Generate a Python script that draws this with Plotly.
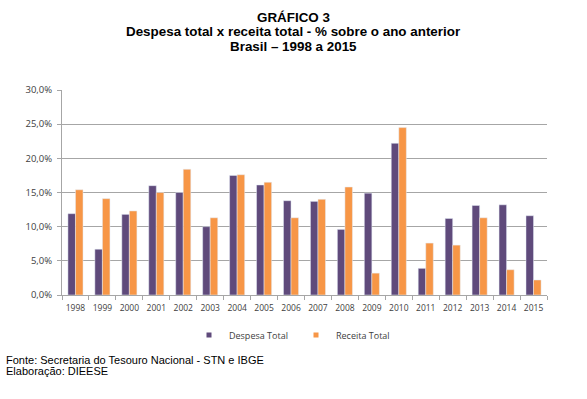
import plotly.graph_objects as go

years = ["1998", "1999", "2000", "2001", "2002", "2003", "2004", "2005", "2006",
         "2007", "2008", "2009", "2010", "2011", "2012", "2013", "2014", "2015"]
despesa = [11.9, 6.7, 11.8, 16.0, 15.0, 10.0, 17.5, 16.1, 13.8,
           13.7, 9.6, 14.9, 22.2, 3.9, 11.2, 13.1, 13.2, 11.6]
receita = [15.4, 14.1, 12.3, 15.0, 18.4, 11.3, 17.6, 16.5, 11.3,
           14.0, 15.8, 3.2, 24.5, 7.6, 7.3, 11.3, 3.7, 2.2]
y_ticks = [0, 5, 10, 15, 20, 25, 30]
y_tick_labels = ["0,0%", "5,0%", "10,0%", "15,0%", "20,0%", "25,0%", "30,0%"]

narrow = "Liberation Sans Narrow, Open Sans, sans-serif"
purple = "#5F4A7B"
orange = "#F79646"

fig = go.Figure()
fig.add_trace(go.Bar(x=years, y=despesa, name="Despesa Total", marker_color=purple,
                     showlegend=False, legendgroup="d"))
fig.add_trace(go.Bar(x=years, y=receita, name="Receita Total", marker_color=orange,
                     showlegend=False, legendgroup="r"))
# legend entries with small square keys
fig.add_trace(go.Scatter(x=[None], y=[None], mode="markers", name="Despesa Total",
                         marker=dict(symbol="square", size=5, color=purple), legendgroup="d"))
fig.add_trace(go.Scatter(x=[None], y=[None], mode="markers", name="Receita Total",
                         marker=dict(symbol="square", size=5, color=orange), legendgroup="r"))

L, R, T, B = 62, 40, 90, 104
W, H = 587, 399
pw, ph = W - L - R, H - T - B

def px(x):
    return (x - L) / pw

def py(y):
    return (H - B - y) / ph

annotations = []
for i, txt in enumerate(["GRÁFICO 3",
                         "Despesa total x receita total - % sobre o ano anterior",
                         "Brasil – 1998 a 2015"]):
    annotations.append(dict(text="<b>" + txt + "</b>", x=px(293), y=py(18 + 14 * i),
                            xref="paper", yref="paper", showarrow=False,
                            xanchor="center", yanchor="middle",
                            font=dict(family="Liberation Sans, Arial, sans-serif", size=13.4, color="black")))
for i, txt in enumerate(["Fonte: Secretaria do Tesouro Nacional - STN e IBGE",
                         "Elaboração: DIEESE"]):
    annotations.append(dict(text=txt, x=px(4), y=py(360 + 11 * i),
                            xref="paper", yref="paper", showarrow=False,
                            xanchor="left", yanchor="middle",
                            font=dict(family="Liberation Sans, Arial, sans-serif", size=11, color="black")))

fig.update_layout(
    width=W, height=H,
    margin=dict(l=L, r=R, t=T, b=B, pad=0),
    paper_bgcolor="white", plot_bgcolor="white",
    barmode="group", bargap=0.44, bargroupgap=0.0,
    showlegend=True,
    legend=dict(orientation="h", xref="container", yref="container",
                x=(296) / W, xanchor="center", y=1 - 335 / H, yanchor="middle",
                font=dict(family=narrow, size=9, color="#404040"),
                itemwidth=30, tracegroupgap=0,
                entrywidth=62, entrywidthmode="pixels"),
    annotations=annotations,
    xaxis=dict(showline=True, linecolor="#A6A6A6", linewidth=1, ticks="outside",
               tickcolor="#A6A6A6", ticklen=4, tickson="boundaries",
               tickfont=dict(family=narrow, size=8.5, color="#404040"),
               ticklabelstandoff=5,
               tickangle=0, automargin=False, showgrid=False),
    yaxis=dict(range=[0, 30], tickvals=y_ticks, ticktext=y_tick_labels,
               showline=True, linecolor="#A6A6A6", linewidth=1,
               ticks="outside", tickcolor="#A6A6A6", ticklen=4,
               ticklabelstandoff=3,
               showgrid=True, gridcolor="#A6A6A6", gridwidth=1,
               tickfont=dict(family=narrow, size=9.5, color="#404040"),
               automargin=False, zeroline=False),
)

fig.write_html("out.html", config={"displayModeBar": False},
               post_script="document.body.style.margin='0';document.body.style.padding='0';")
